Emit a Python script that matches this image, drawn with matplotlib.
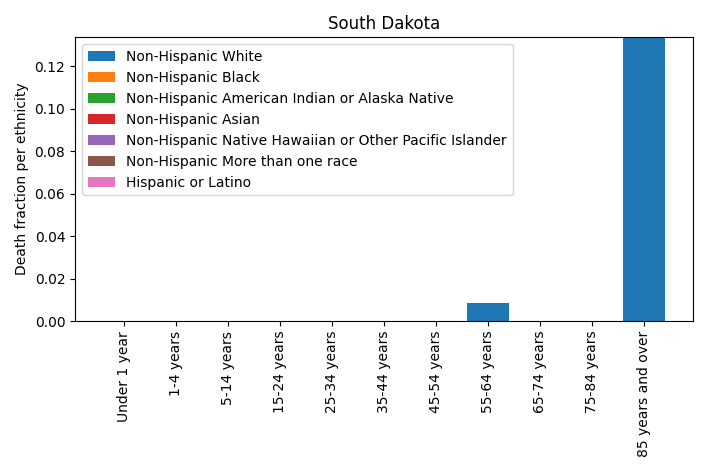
import matplotlib
matplotlib.use("Agg")
import matplotlib.pyplot as plt
import numpy as np

age_groups = [
    "Under 1 year",
    "1-4 years",
    "5-14 years",
    "15-24 years",
    "25-34 years",
    "35-44 years",
    "45-54 years",
    "55-64 years",
    "65-74 years",
    "75-84 years",
    "85 years and over",
]
ethnicities = [
    "Non-Hispanic White",
    "Non-Hispanic Black",
    "Non-Hispanic American Indian or Alaska Native",
    "Non-Hispanic Asian",
    "Non-Hispanic Native Hawaiian or Other Pacific Islander",
    "Non-Hispanic More than one race",
    "Hispanic or Latino",
]
white = [0, 0, 0, 0, 0, 0, 0, 0.0085, 0, 0, 0.1336]
black = [0] * 11
aian = [0] * 11
asian = [0] * 11
nhopi = [0] * 11
multi = [0] * 11
hispanic = [0] * 11
series = [white, black, aian, asian, nhopi, multi, hispanic]

fig, ax = plt.subplots(figsize=(7.08, 4.72), dpi=100)
x = np.arange(len(age_groups))
bottom = np.zeros(len(age_groups))
for name, vals in zip(ethnicities, series):
    vals = np.array(vals, dtype=float)
    ax.bar(x, vals, bottom=bottom, label=name)
    bottom += vals

ax.set_xticks(x)
ax.set_xticklabels(age_groups, rotation=90)
ax.set_ylim(0, bottom.max())
ax.set_ylabel("Death fraction per ethnicity")
ax.set_title("South Dakota")
ax.legend(loc="upper left")
fig.tight_layout()
fig.savefig("out.png", dpi=100)
